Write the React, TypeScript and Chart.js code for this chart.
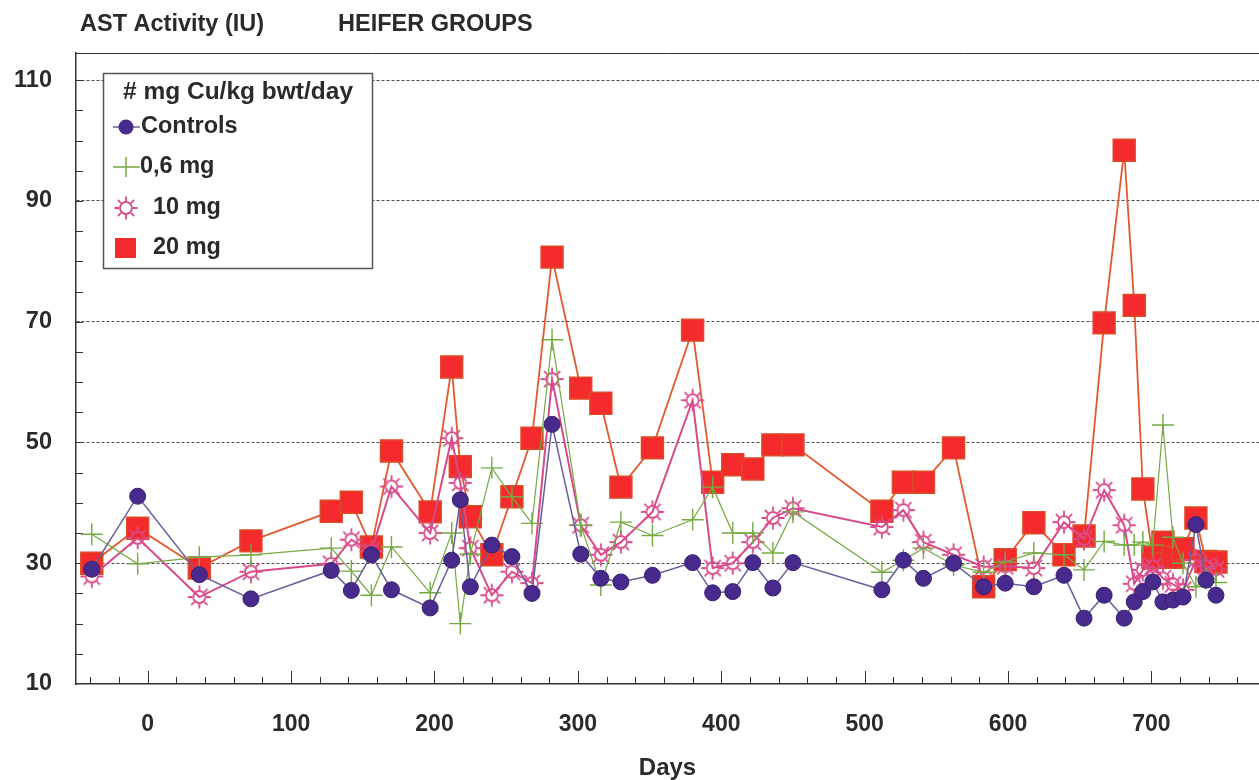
import { useEffect, useRef } from "react";
import { Chart, registerables } from "chart.js";

Chart.register(...registerables);

// ---------- data ----------
const days = [
  -39, -7, 36, 72, 128, 142, 156, 170, 197, 212, 218, 225, 240, 254, 268, 282,
  302, 316, 330, 352, 380, 394, 408, 422, 436, 450, 512, 527, 541, 562, 583, 598,
  618, 639, 653, 667, 681, 688, 694, 701, 708, 715, 722, 731, 738, 745,
];
const controls = [
  29.0, 41.1, 28.1, 24.1, 28.8, 25.5, 31.4, 25.6, 22.6, 30.5, 40.5, 26.1, 33.0, 31.1, 25.0, 53.0,
  31.5, 27.5, 26.9, 28.0, 30.1, 25.1, 25.3, 30.1, 25.9, 30.1, 25.6, 30.5, 27.5, 30.0, 26.1, 26.7,
  26.1, 28.0, 20.9, 24.7, 20.9, 23.6, 25.3, 26.9, 23.6, 23.9, 24.4, 36.4, 27.2, 24.7,
];
const cu06 = [
  34.8, 29.9, 31.0, 31.4, 32.5, 28.7, 24.7, 32.7, 25.1, 35.0, 20.0, 31.5, 45.8, 41.0, 36.6, 67.0,
  36.3, 26.4, 36.8, 34.6, 37.2, 42.6, 35.0, 35.0, 31.7, 38.5, 28.5, 30.5, 32.5, 29.7, 28.5, 30.2,
  31.7, 31.4, 28.9, 33.6, 33.0, 33.0, 33.5, 33.0, 52.9, 34.3, 30.0, 26.1, 27.5, 26.8,
];
const cu10 = [
  27.8, 34.2, 24.4, 28.6, 29.9, 33.9, 32.0, 42.7, 35.0, 50.7, 43.3, 32.5, 24.7, 28.6, 26.7, 60.5,
  36.3, 31.4, 33.5, 38.5, 57.0, 29.2, 30.0, 33.5, 37.5, 39.1, 36.0, 38.8, 33.5, 31.4, 29.4, 29.5,
  29.2, 36.8, 34.0, 42.1, 36.3, 26.6, 28.9, 29.5, 27.5, 26.5, 25.6, 30.5, 29.5, 29.0,
];
const cu20 = [
  30.0, 35.8, 29.2, 33.7, 38.6, 40.1, 32.7, 48.6, 38.5, 62.5, 46.0, 37.7, 31.4, 41.0, 50.7, 80.7,
  59.0, 56.5, 42.6, 49.1, 68.6, 43.4, 46.3, 45.6, 49.6, 49.6, 38.6, 43.4, 43.4, 49.1, 26.1, 30.6,
  36.7, 31.4, 34.5, 69.8, 98.4, 72.7, 42.3, 31.0, 33.5, 31.0, 32.4, 37.5, 30.3, 30.2,
];

const seriesLabels = ["Controls", "0,6 mg", "10 mg", "20 mg"];
const xTickValues = [0, 100, 200, 300, 400, 500, 600, 700];
const yTickValues = [10, 30, 50, 70, 90, 110];
const legendTitle = "# mg Cu/kg bwt/day";
const titleLeft = "AST Activity (IU)";
const titleRight = "HEIFER GROUPS";
const xAxisTitle = "Days";

const FONT = '"Liberation Sans", Arial, Helvetica, sans-serif';
const TEXT = "#2a2a2a";

const COLORS = {
  ctrlFill: "#48298c",
  ctrlBorder: "#3a2070",
  ctrlLine: "#6b5e9c",
  green: "#74aa42",
  pink: "#d84b8a",
  redFill: "#f42a2c",
  redBorder: "#dc4a26",
  redLine: "#e2592f",
};

function makeSun(color: string): HTMLCanvasElement {
  const c = document.createElement("canvas");
  const s = 26;
  c.width = s;
  c.height = s;
  const g = c.getContext("2d")!;
  g.strokeStyle = color;
  g.lineWidth = 1.8;
  g.beginPath();
  g.arc(s / 2, s / 2, 6, 0, Math.PI * 2);
  g.stroke();
  g.beginPath();
  for (let k = 0; k < 8; k++) {
    const a = (k * Math.PI) / 4;
    g.moveTo(s / 2 + 7 * Math.cos(a), s / 2 + 7 * Math.sin(a));
    g.lineTo(s / 2 + 11.5 * Math.cos(a), s / 2 + 11.5 * Math.sin(a));
  }
  g.stroke();
  return c;
}

const pts = (vals: number[]) => days.map((d, i) => ({ x: d, y: vals[i] }));

export default function App() {
  const ref = useRef<HTMLCanvasElement | null>(null);

  useEffect(() => {
    if (!ref.current) return;
    const sun = makeSun(COLORS.pink);

    const decorPlugin = {
      id: "decor",
      beforeDatasetsDraw(chart: any) {
        const { ctx, chartArea, scales } = chart;
        const xs = scales.x;
        const ys = scales.y;
        ctx.save();
        ctx.strokeStyle = "#333";
        ctx.lineWidth = 1;
        // top frame line
        ctx.beginPath();
        ctx.moveTo(chartArea.left, chartArea.top + 0.5);
        ctx.lineTo(chartArea.right, chartArea.top + 0.5);
        ctx.stroke();
        // x ticks (inward)
        ctx.beginPath();
        for (let d = -40; d <= 760; d += 20) {
          const px = Math.round(xs.getPixelForValue(d)) + 0.5;
          const len = d % 100 === 0 ? 13 : 7;
          ctx.moveTo(px, chartArea.bottom);
          ctx.lineTo(px, chartArea.bottom - len);
        }
        // y ticks (inward)
        for (let v = 15; v <= 110; v += 5) {
          const py = Math.round(ys.getPixelForValue(v)) + 0.5;
          ctx.moveTo(chartArea.left, py);
          ctx.lineTo(chartArea.left + 7, py);
        }
        ctx.stroke();
        ctx.restore();
      },
      afterDraw(chart: any) {
        const { ctx } = chart;
        ctx.save();
        // titles
        ctx.fillStyle = TEXT;
        ctx.font = `bold 23.5px ${FONT}`;
        ctx.textBaseline = "middle";
        ctx.textAlign = "left";
        ctx.fillText(titleLeft, 80, 25);
        ctx.fillText(titleRight, 338, 25);

        // legend box
        const L = 103, T = 73, W = 269, H = 195;
        ctx.fillStyle = "#fff";
        ctx.fillRect(L, T, W, H);
        ctx.strokeStyle = "#555";
        ctx.lineWidth = 1.5;
        ctx.strokeRect(L + 0.5, T + 0.5, W, H);
        ctx.fillStyle = TEXT;
        ctx.font = `bold 24.5px ${FONT}`;
        ctx.textAlign = "center";
        ctx.fillText(legendTitle, 238, 92);

        const rowY = [127, 167, 208, 248];
        const mx = 126;
        ctx.textAlign = "left";
        // Controls
        ctx.strokeStyle = COLORS.ctrlLine;
        ctx.lineWidth = 1.5;
        ctx.beginPath();
        ctx.moveTo(113, rowY[0]);
        ctx.lineTo(140, rowY[0]);
        ctx.stroke();
        ctx.fillStyle = COLORS.ctrlFill;
        ctx.beginPath();
        ctx.arc(mx, rowY[0], 7.5, 0, Math.PI * 2);
        ctx.fill();
        // green
        ctx.strokeStyle = COLORS.green;
        ctx.lineWidth = 1.5;
        ctx.beginPath();
        ctx.moveTo(113, rowY[1]);
        ctx.lineTo(140, rowY[1]);
        ctx.moveTo(mx, rowY[1] - 10);
        ctx.lineTo(mx, rowY[1] + 10);
        ctx.stroke();
        // pink sun
        ctx.drawImage(sun, mx - 13, rowY[2] - 13);
        // red square
        ctx.fillStyle = COLORS.redFill;
        ctx.fillRect(mx - 11, rowY[3] - 10, 21, 20);

        ctx.fillStyle = TEXT;
        ctx.font = `bold 23.5px ${FONT}`;
        ctx.fillText(seriesLabels[0], 141, rowY[0]);
        ctx.fillText(seriesLabels[1], 140, rowY[1]);
        ctx.fillText(seriesLabels[2], 153, rowY[2]);
        ctx.fillText(seriesLabels[3], 153, rowY[3]);
        ctx.restore();
      },
    };

    const chart = new Chart(ref.current, {
      type: "line",
      data: {
        datasets: [
          {
            label: seriesLabels[0],
            data: pts(controls),
            borderColor: COLORS.ctrlLine,
            borderWidth: 1.5,
            pointStyle: "circle",
            pointRadius: 8,
            pointBackgroundColor: COLORS.ctrlFill,
            pointBorderColor: COLORS.ctrlBorder,
            pointBorderWidth: 1,
          },
          {
            label: seriesLabels[1],
            data: pts(cu06),
            borderColor: COLORS.green,
            borderWidth: 1.2,
            pointStyle: "cross",
            pointRadius: 11,
            pointBorderColor: COLORS.green,
            pointBorderWidth: 1.4,
          },
          {
            label: seriesLabels[2],
            data: pts(cu10),
            borderColor: COLORS.pink,
            borderWidth: 2,
            pointStyle: sun as any,
            pointRadius: 11,
          },
          {
            label: seriesLabels[3],
            data: pts(cu20),
            borderColor: COLORS.redLine,
            borderWidth: 1.8,
            pointStyle: "rect",
            pointRadius: 15.5,
            pointBackgroundColor: COLORS.redFill,
            pointBorderColor: COLORS.redBorder,
            pointBorderWidth: 1.5,
          },
        ],
      },
      options: {
        responsive: false,
        animation: false,
        devicePixelRatio: 1,
        layout: { autoPadding: false, padding: { top: 53, left: 0, right: 0, bottom: 0 } },
        plugins: {
          legend: { display: false },
          tooltip: { enabled: false },
          title: { display: false },
        },
        elements: { line: { tension: 0, fill: false } },
        scales: {
          x: {
            type: "linear",
            min: -50,
            max: 775,
            afterFit: (s: any) => {
              s.height = 96;
              s.paddingLeft = 0;
              s.paddingRight = 0;
            },
            afterBuildTicks: (s: any) => {
              s.ticks = xTickValues.map((v) => ({ value: v }));
            },
            grid: { display: false, drawTicks: false },
            border: { display: true, color: "#333", width: 1.5 },
            ticks: {
              padding: 27,
              color: TEXT,
              font: { family: FONT, size: 23, weight: "bold" },
              maxRotation: 0,
            },
            title: {
              display: true,
              text: xAxisTitle,
              color: TEXT,
              font: { family: FONT, size: 24, weight: "bold", lineHeight: 1 },
              padding: { top: 0, bottom: 0 },
            },
          },
          y: {
            type: "linear",
            min: 10,
            max: 114.5,
            afterFit: (s: any) => {
              s.width = 76;
              s.paddingTop = 0;
              s.paddingBottom = 0;
            },
            afterBuildTicks: (s: any) => {
              s.ticks = yTickValues.map((v) => ({ value: v }));
            },
            grid: {
              display: true,
              drawTicks: false,
              color: (c: any) => (c.tick && c.tick.value === 10 ? "rgba(0,0,0,0)" : "#4a4a4a"),
              lineWidth: 1,
            },
            border: { display: true, color: "#333", width: 1.5, dash: [3, 2] },
            ticks: {
              padding: 24,
              color: TEXT,
              font: { family: FONT, size: 23.5, weight: "bold" },
            },
          },
        },
      },
      plugins: [decorPlugin],
    });

    return () => chart.destroy();
  }, []);

  return (
    <div style={{ position: "fixed", left: 0, top: 0, width: 1259, height: 780, background: "#fff" }}>
      <canvas ref={ref} width={1259} height={780} style={{ display: "block" }} />
    </div>
  );
}
